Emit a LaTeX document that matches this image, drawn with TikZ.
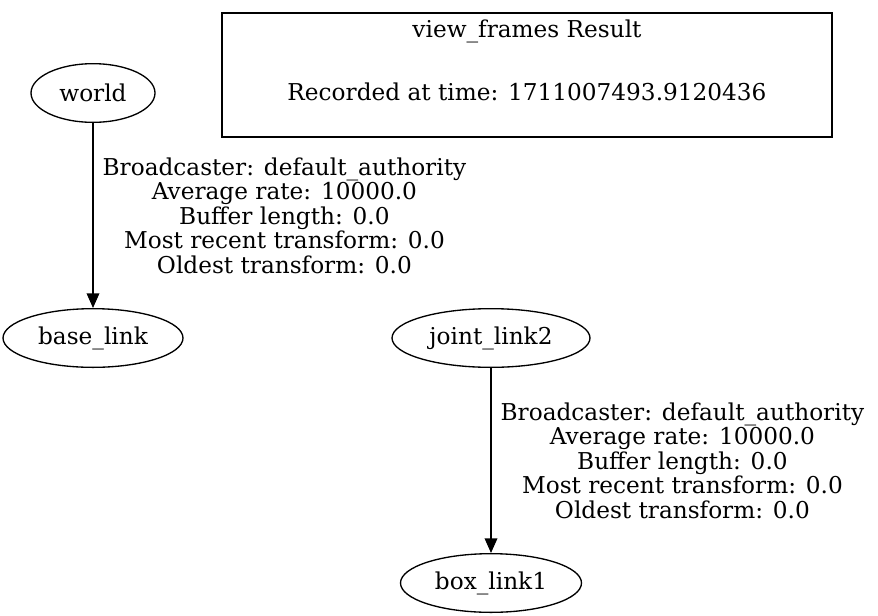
\documentclass[tikz,border=0pt]{standalone}
\usepackage{fontspec}
\setmainfont{DejaVu Serif}
\usetikzlibrary{arrows.meta, shapes.geometric}

\begin{document}
\begin{tikzpicture}[x=0.75pt, y=-0.75pt, line width=1pt,
    font=\fontsize{17.4pt}{18.4pt}\selectfont,
    framenode/.style={ellipse, draw, inner sep=0pt, minimum height=44pt},
    ratelabel/.style={right, align=center, inner sep=0pt, xshift=6.75pt}]
  \useasboundingbox (0,0) rectangle (878,615);

  % Frames
  \node[framenode, minimum width=93pt] (world) at (93,93) {world};
  \node[framenode, minimum width=135pt] (base_link) at (93,338) {base\_link};
  \node[framenode, minimum width=148.5pt] (joint_link2) at (491,338) {joint\_link2};
  \node[framenode, minimum width=135.75pt] (box_link1) at (491,583) {box\_link1};

  % Header box
  \node[draw, line width=2.2pt, minimum width=457.5pt, minimum height=93pt] (header) at (527,75) {};
  \node[anchor=base] (title) at (527,37) {view\_frames Result};
  \node[anchor=base] (stamp) at (527,100) {Recorded at time: 1711007493.9120436};

  % Transforms
  \draw[-{Triangle[length=11pt, width=9.5pt]}] (world) -- node[ratelabel] {Broadcaster: default\_authority\\Average rate: 10000.0\\Buffer length: 0.0\\Most recent transform: 0.0\\Oldest transform: 0.0} (base_link);
  \draw[-{Triangle[length=11pt, width=9.5pt]}] (joint_link2) -- node[ratelabel] {Broadcaster: default\_authority\\Average rate: 10000.0\\Buffer length: 0.0\\Most recent transform: 0.0\\Oldest transform: 0.0} (box_link1);
\end{tikzpicture}
\end{document}
